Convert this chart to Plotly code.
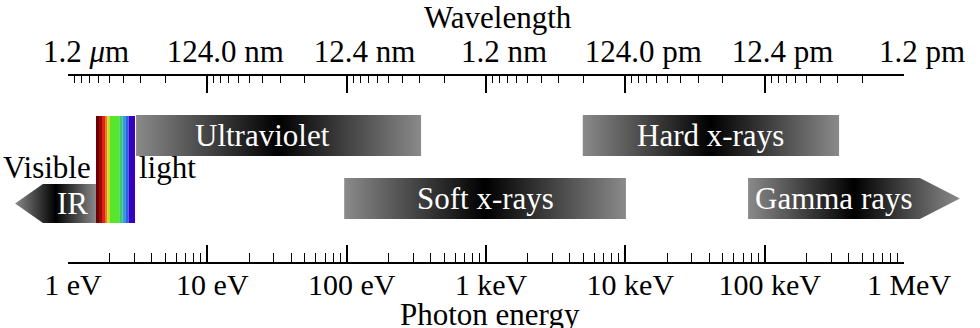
import math
import plotly.graph_objects as go

# ---------------- data ----------------
energy_ticks = [1, 10, 100, 1e3, 1e4, 1e5, 1e6]                       # eV
energy_labels = ["1 eV", "10 eV", "100 eV", "1 keV", "10 keV", "100 keV", "1 MeV"]
wavelength_labels = ["1.2 <i>μ</i>m", "124.0 nm", "12.4 nm", "1.2 nm",
                     "124.0 pm", "12.4 pm", "1.2 pm"]

band_names = ["Ultraviolet", "Hard x-rays", "Soft x-rays", "Gamma rays", "IR"]
band_lo = [3.08, 4.95e3, 96.0, 7.6e4, 0.417]      # eV
band_hi = [342.0, 3.42e5, 1.01e4, 2.52e6, 1.59]   # eV
band_row = ["upper", "upper", "lower", "lower", "ir"]
band_arrow = [None, None, None, "right", "left"]

visible_edges = [1.589, 1.669, 1.754, 1.843, 1.915, 2.002, 2.334, 2.470, 2.578, 2.727, 3.026]  # eV
visible_colors = ["#6b0000", "#9c0606", "#d8261a", "#f0781e", "#c8dc28",
                  "#58e62c", "#3cc870", "#2aa0d8", "#2860e8", "#3a00c0"]

# ---------------- style / layout ----------------
W, H = 980, 328
AX_L, AX_R = 68, 904          # pixel extent of the energy axis
AX_TOP, AX_BOT = 76, 262      # pixel rows of the two axis lines
ROWS = {"upper": (115, 156), "lower": (178, 219), "ir": (184, 223), "visible": (116, 223)}
HEAD = {"right": 0.287, "left": 0.20}     # arrow-head length in decades
FONT = "Liberation Serif"
FS = 31
FS_BOT = 30
GRAD = [[0, "#8a8a8a"], [0.5, "#000000"], [1, "#8a8a8a"]]

ppd = (AX_R - AX_L) / 6.0
full_range = [-AX_L / ppd, (W - AX_L) / ppd]


def py2paper(py):
    return (AX_BOT - py) / (AX_BOT - AX_TOP)


fig = go.Figure()

# bands
for name, lo, hi, row, arrow in zip(band_names, band_lo, band_hi, band_row, band_arrow):
    y0, y1 = ROWS[row]
    ym = (y0 + y1) / 2
    if arrow == "right":
        hs = 10 ** (math.log10(hi) - HEAD["right"])
        xs = [lo, hs, hi, hs, lo, lo]
        ys = [y0, y0, ym, y1, y1, y0]
        rect = (lo, hs)
    elif arrow == "left":
        hs = 10 ** (math.log10(lo) + HEAD["left"])
        xs = [lo, hs, hi, hi, hs, lo]
        ys = [ym, y0, y0, y1, y1, ym]
        rect = (hs, hi)
    else:
        xs = [lo, hi, hi, lo, lo]
        ys = [y0, y0, y1, y1, y0]
        rect = (lo, hi)
    fig.add_trace(go.Scatter(
        x=xs, y=ys, xaxis="x3", yaxis="y", mode="lines", fill="toself",
        line=dict(width=0), fillgradient=dict(type="horizontal", colorscale=GRAD),
        hoverinfo="skip", showlegend=False))
    xc = 10 ** ((math.log10(rect[0]) + math.log10(rect[1])) / 2)
    fig.add_annotation(x=math.log10(xc), y=ym, xref="x3", yref="y", text=name,
                       showarrow=False, font=dict(family=FONT, size=FS, color="white"),
                       xanchor="center", yanchor="middle",
                       xshift=-16 if name == "Ultraviolet" else (3 if name == "IR" else 0))

# visible spectrum stripes
vy0, vy1 = ROWS["visible"]
for a, b, c in zip(visible_edges[:-1], visible_edges[1:], visible_colors):
    fig.add_trace(go.Scatter(
        x=[a, b, b, a, a], y=[vy0, vy0, vy1, vy1, vy0], xaxis="x3", yaxis="y",
        mode="lines", fill="toself", fillcolor=c, line=dict(width=0),
        hoverinfo="skip", showlegend=False))

fig.add_annotation(x=math.log10(visible_edges[0]), y=167, xref="x3", yref="y", text="Visible",
                   showarrow=False, xanchor="right", yanchor="middle", xshift=-3,
                   font=dict(family=FONT, size=FS, color="black"))
fig.add_annotation(x=math.log10(visible_edges[-1]), y=167, xref="x3", yref="y", text="light",
                   showarrow=False, xanchor="left", yanchor="middle", xshift=2,
                   font=dict(family=FONT, size=FS, color="black"))

# invisible carriers so that both visible axes are drawn
fig.add_trace(go.Scatter(x=[energy_ticks[0], energy_ticks[-1]], y=[None, None], xaxis="x", yaxis="y",
                         mode="lines", hoverinfo="skip", showlegend=False))
fig.add_trace(go.Scatter(x=[energy_ticks[0], energy_ticks[-1]], y=[None, None], xaxis="x2", yaxis="y",
                         mode="lines", hoverinfo="skip", showlegend=False))

minor_energy = [10 ** n * k for n in range(6) for k in range(2, 10)]
minor_wave = [10 ** n * 10 / k for n in range(6) for k in range(2, 10)]

dom = [AX_L / W, AX_R / W]
common = dict(type="log", range=[0, 6], domain=dom, showgrid=False, zeroline=False,
              showline=True, linecolor="black", linewidth=2, automargin=False,
              ticks="inside", ticklen=17, tickwidth=2, tickcolor="black",
              tickmode="array", tickvals=energy_ticks)

fig.update_layout(
    width=W, height=H,
    margin=dict(l=0, r=0, t=AX_TOP, b=H - AX_BOT, pad=0, autoexpand=False),
    paper_bgcolor="white", plot_bgcolor="rgba(0,0,0,0)",
    showlegend=False,
    xaxis=dict(**common, side="bottom", anchor="y", ticktext=energy_labels,
               tickfont=dict(family=FONT, size=FS_BOT, color="black"),
               ticklabelstandoff=-5, ticklabelshift=5,
               minor=dict(ticks="inside", ticklen=9, tickwidth=1, tickcolor="black",
                          tickmode="array", tickvals=minor_energy, showgrid=False)),
    xaxis2=dict(**common, side="top", anchor="y", overlaying="x", ticktext=wavelength_labels,
                tickfont=dict(family=FONT, size=FS, color="black"),
                ticklabelstandoff=0, ticklabelshift=18,
                minor=dict(ticks="inside", ticklen=7, tickwidth=1, tickcolor="black",
                           tickmode="array", tickvals=minor_wave, showgrid=False)),
    xaxis3=dict(type="log", range=full_range, domain=[0, 1], visible=False, automargin=False,
                anchor="y", showgrid=False, zeroline=False),
    yaxis=dict(range=[AX_BOT, AX_TOP], domain=[0, 1], visible=False, automargin=False,
               showgrid=False, zeroline=False),
)

fig.add_annotation(x=498 / W, y=py2paper(17), xref="paper", yref="paper", text="Wavelength",
                   showarrow=False, xanchor="center", yanchor="middle",
                   font=dict(family=FONT, size=FS, color="black"))
fig.add_annotation(x=490 / W, y=py2paper(314), xref="paper", yref="paper", text="Photon energy",
                   showarrow=False, xanchor="center", yanchor="middle",
                   font=dict(family=FONT, size=FS, color="black"))

fig.write_html("out.html", config={"displayModeBar": False},
               post_script="document.body.style.margin='0';")
